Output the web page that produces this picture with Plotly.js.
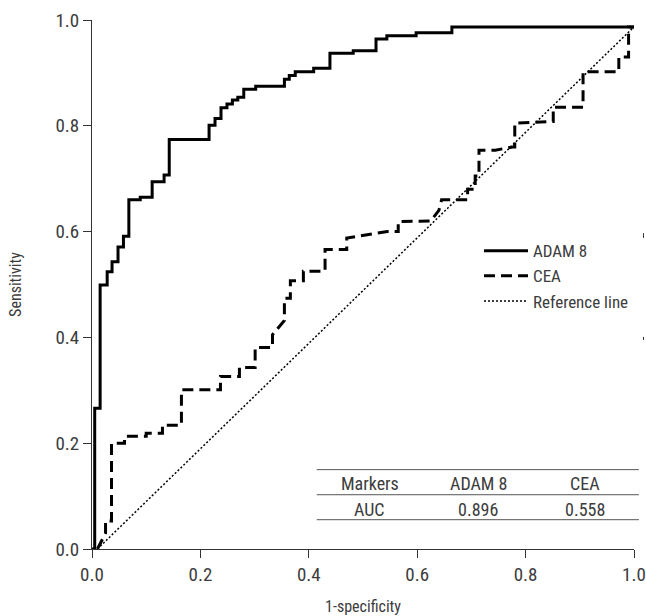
<!DOCTYPE html>
<html>
<head>
<meta charset="utf-8">
<script src="https://cdn.plot.ly/plotly-3.0.1.min.js"></script>
<style>html,body{margin:0;padding:0;background:#fff;}#chart{width:646px;height:616px;}</style>
</head>
<body>
<div id="chart"></div>
<script>
// ADAM 8 ROC curve (step vertices, drawn with 'hv' shape)
const adamFpr = [0, 0.005, 0.015, 0.028, 0.037, 0.048, 0.058, 0.068, 0.089, 0.111, 0.133, 0.1425, 0.216, 0.227, 0.238, 0.249, 0.259, 0.269, 0.280, 0.302, 0.355, 0.364, 0.375, 0.409, 0.439, 0.482, 0.524, 0.544, 0.598, 0.664, 1.0];
const adamTpr = [0, 0.266, 0.499, 0.524, 0.543, 0.571, 0.591, 0.660, 0.665, 0.694, 0.707, 0.774, 0.801, 0.814, 0.834, 0.841, 0.849, 0.854, 0.869, 0.875, 0.888, 0.895, 0.902, 0.909, 0.937, 0.942, 0.964, 0.970, 0.976, 0.987, 0.987];

// CEA ROC curve (corner points)
const ceaFpr = [0.010, 0.025, 0.025, 0.036, 0.036, 0.060, 0.060, 0.100, 0.100, 0.130, 0.130, 0.165, 0.165, 0.237, 0.237, 0.272, 0.272, 0.301, 0.301, 0.333, 0.333, 0.355, 0.355, 0.366, 0.366, 0.390, 0.390, 0.430, 0.430, 0.470, 0.470, 0.500, 0.545, 0.565, 0.565, 0.625, 0.640, 0.645, 0.693, 0.693, 0.707, 0.707, 0.714, 0.714, 0.744, 0.777, 0.780, 0.780, 0.851, 0.851, 0.906, 0.906, 0.972, 0.972, 0.990, 0.990, 1.0];
const ceaTpr = [0.000, 0.030, 0.053, 0.053, 0.200, 0.200, 0.213, 0.213, 0.219, 0.219, 0.234, 0.234, 0.301, 0.301, 0.326, 0.326, 0.343, 0.343, 0.381, 0.381, 0.405, 0.432, 0.474, 0.474, 0.507, 0.507, 0.525, 0.525, 0.566, 0.566, 0.588, 0.593, 0.600, 0.600, 0.619, 0.620, 0.640, 0.660, 0.660, 0.680, 0.680, 0.705, 0.705, 0.754, 0.754, 0.760, 0.760, 0.805, 0.808, 0.835, 0.835, 0.902, 0.902, 0.930, 0.930, 0.987, 0.987];

// Reference (chance) line
const refX = [0.01, 1.0];
const refY = [0.0, 0.987];

// AUC table
const tableHeader = ['Markers', 'ADAM 8', 'CEA'];
const tableRowLabel = 'AUC';
const aucValues = [0.896, 0.558];

// Axis ticks
const tickVals = [0, 0.2, 0.4, 0.6, 0.8, 1.0];
const tickText = ['0.0', '0.2', '0.4', '0.6', '0.8', '1.0'];

const FONT = '"Roboto Condensed", "Liberation Sans Narrow", Roboto, sans-serif';
const TXT = '#3c3c3c';

const traces = [
  {x: adamFpr, y: adamTpr, type: 'scatter', mode: 'lines', name: 'ADAM 8',
   line: {color: '#000', width: 3, shape: 'hv'}},
  {x: ceaFpr, y: ceaTpr, type: 'scatter', mode: 'lines', name: 'CEA',
   line: {color: '#000', width: 3, dash: '11px,6px'}},
  {x: refX, y: refY, type: 'scatter', mode: 'lines', name: 'Reference line',
   line: {color: '#000', width: 1.5, dash: '2px,2px'}}
];

// table geometry in paper coords
const tx0 = 0.4146, tx1 = 1.009;
const lineYs = [0.150, 0.1026, 0.0554];
const colX = [0.5124, 0.7122, 0.909];
const rowY = [0.1234, 0.0743];

const shapes = lineYs.map(y => ({type: 'line', xref: 'paper', yref: 'paper',
  x0: tx0, x1: tx1, y0: y, y1: y, line: {color: '#555', width: 1}}));
shapes.push({type: 'line', xref: 'paper', yref: 'paper', x0: 1.0175, x1: 1.0175, y0: 0.588, y1: 0.597, line: {color: '#333', width: 1}});
shapes.push({type: 'line', xref: 'paper', yref: 'paper', x0: 1.0175, x1: 1.0175, y0: 0.395, y1: 0.401, line: {color: '#333', width: 1}});

const TSIZE = 18;
const annotations = [];
tableHeader.forEach((h, i) => annotations.push({xref: 'paper', yref: 'paper', x: colX[i], y: rowY[0],
  text: h, showarrow: false, xanchor: 'center', yanchor: 'middle', font: {family: FONT, size: TSIZE, color: TXT}}));
annotations.push({xref: 'paper', yref: 'paper', x: colX[0], y: rowY[1], text: tableRowLabel, showarrow: false,
  xanchor: 'center', yanchor: 'middle', font: {family: FONT, size: TSIZE, color: TXT}});
aucValues.forEach((v, i) => annotations.push({xref: 'paper', yref: 'paper', x: colX[i + 1], y: rowY[1],
  text: v.toFixed(3), showarrow: false, xanchor: 'center', yanchor: 'middle', font: {family: FONT, size: TSIZE, color: TXT}}));

const layout = {
  width: 646, height: 616,
  margin: {l: 92, r: 12, t: 20, b: 67, autoexpand: false},
  paper_bgcolor: '#fff', plot_bgcolor: '#fff',
  font: {family: FONT, size: 18, color: TXT},
  showlegend: true,
  legend: {x: 0.714, y: 0.597, xanchor: 'left', yanchor: 'top', bgcolor: 'rgba(0,0,0,0)',
    font: {family: FONT, size: 17, color: TXT}, itemwidth: 44, tracegroupgap: 0},
  xaxis: {range: [0, 1], tickvals: tickVals, ticktext: tickText, showgrid: false, zeroline: false,
    automargin: false,
    showline: true, linecolor: '#333', linewidth: 1, ticks: 'outside', ticklen: 8, tickcolor: '#333',
    tickfont: {family: FONT, size: 19, color: TXT},
    title: {text: '1-specificity', font: {family: FONT, size: 16, color: TXT}, standoff: 16}},
  yaxis: {range: [0, 1], tickvals: tickVals, ticktext: tickText, showgrid: false, zeroline: false,
    automargin: false,
    showline: true, linecolor: '#333', linewidth: 1, ticks: 'outside', ticklen: 8, tickcolor: '#333',
    tickfont: {family: FONT, size: 19, color: TXT},
    title: {text: 'Sensitivity', font: {family: FONT, size: 16, color: TXT}, standoff: 29}},
  shapes: shapes,
  annotations: annotations
};

Plotly.newPlot('chart', traces, layout, {displayModeBar: false, staticPlot: true});
</script>
</body>
</html>
